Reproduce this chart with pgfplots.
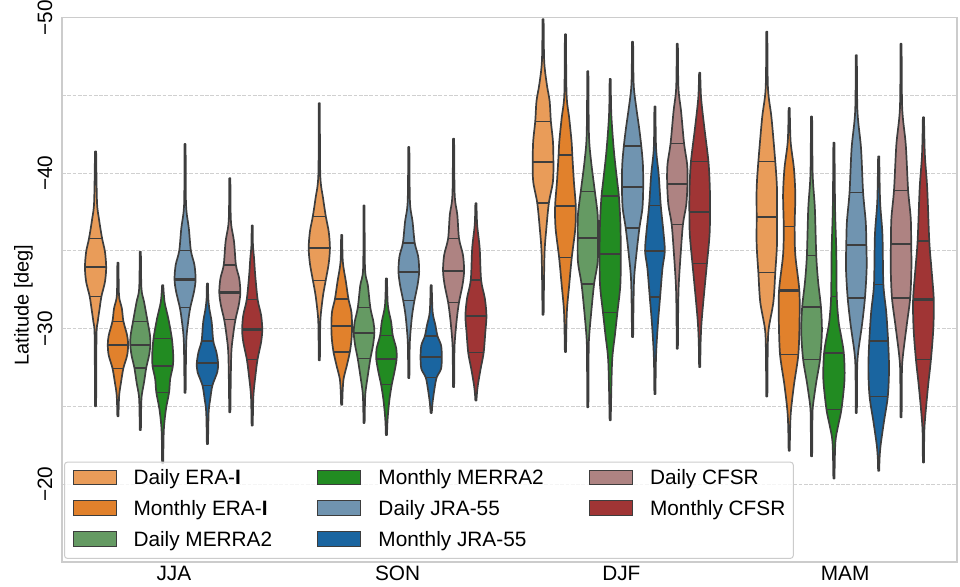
\documentclass[border=0pt]{standalone}
\usepackage{fontspec}
\setmainfont{Liberation Sans}
\usepackage{pgfplots}
\pgfplotsset{compat=1.18}
\usepackage{pgfplotstable}
\usepgfplotslibrary{fillbetween}

\definecolor{edge}{HTML}{3D3D3D}
\definecolor{cDE}{RGB}{233,156,89}
\definecolor{cME}{RGB}{225,129,44}
\definecolor{cDM}{RGB}{101,154,99}
\definecolor{cMM}{RGB}{34,139,34}
\definecolor{cDJ}{RGB}{112,148,176}
\definecolor{cMJ}{RGB}{26,101,160}
\definecolor{cDC}{RGB}{174,131,130}
\definecolor{cMC}{RGB}{160,53,53}
\definecolor{gridc}{HTML}{D0D0D0}
\definecolor{spine}{HTML}{CCCCCC}

% violin profiles: latitude y and half-width w (density, px-like units) per season
\pgfplotstableread{
yJ wJ yS wS yD wD yM wM
-41.40 0.6 -44.50 0.6 -49.90 0.6 -49.10 0.6
-38.17 1.5 -39.90 1.0 -47.21 1.2 -45.48 1.2
-37.10 3.5 -38.39 4 -45.70 4 -43.55 5
-35.79 7 -37.19 7 -44.63 7 -40.74 9
-34.95 10 -36.24 10 -43.34 8.3 -39.03 10.8
-33.94 11.3 -35.19 11.3 -42.05 10.5 -37.16 10.8
-33.01 10 -34.19 10 -40.71 11 -35.38 10.8
-32.09 6.3 -33.10 6.8 -39.46 10.5 -33.61 9
-31.29 4.3 -32.15 4 -38.09 6.2 -31.72 7
-30.43 2.3 -30.86 1.5 -36.45 3.5 -30.00 2
-29.57 1.0 -30.00 0.9 -34.74 1.5 -28.71 1
-25.01 0.6 -27.96 0.6 -30.90 0.6 -25.64 0.6
}\tDE
\pgfplotstableread{
yJ wJ yS wS yD wD yM wM
-34.24 0.6 -36.03 0.6 -48.93 0.6 -44.19 0.6
-32.58 0.9 -34.30 1.2 -45.06 1.2 -42.05 1.5
-31.94 1.5 -33.01 4.5 -43.55 4 -40.32 5
-31.29 4.2 -31.90 7.2 -42.05 6.5 -38.61 6.5
-30.48 5.8 -31.08 10.3 -41.16 7.3 -36.56 5.8
-29.57 9.8 -30.19 11 -39.46 9 -34.74 6.5
-28.97 10.8 -29.35 10.5 -37.87 11 -32.45 10.8
-28.28 9.8 -28.50 8.7 -36.45 10.5 -30.43 11
-27.46 5.8 -27.64 5.5 -34.56 6.7 -28.32 9.7
-26.56 3.3 -26.77 2 -32.80 4 -26.35 5
-25.70 1.3 -25.92 1.0 -31.08 1.5 -24.41 1.5
-24.37 0.6 -25.10 0.6 -28.50 0.6 -22.15 0.6
}\tME
\pgfplotstableread{
yJ wJ yS wS yD wD yM wM
-34.95 0.6 -37.92 0.6 -46.56 0.6 -43.64 0.6
-32.58 1.2 -33.87 1.0 -42.48 1.2 -39.90 1.2
-31.72 4 -32.80 4 -40.75 3.5 -37.74 3.5
-30.48 7.7 -31.34 6.7 -38.82 7.5 -34.69 5
-29.57 10.3 -30.43 10 -37.32 10.5 -33.01 7
-28.97 10.7 -29.74 11 -35.85 10.8 -31.38 10
-28.28 9.3 -28.93 9.5 -34.30 10.5 -29.79 11
-27.48 6.3 -28.06 6.7 -32.88 6.7 -28.03 9
-26.56 4 -26.99 4 -31.29 4 -26.56 5
-25.70 1.5 -25.92 1.5 -29.57 1.5 -25.06 1.5
-24.88 0.9 -25.06 0.9 -28.50 0.9 -24.19 0.9
-23.48 0.6 -23.94 0.6 -24.95 0.6 -21.79 0.6
}\tDM
\pgfplotstableread{
yJ wJ yS wS yD wD yM wM
-32.80 0.6 -33.23 0.6 -46.06 0.6 -41.96 0.6
-31.72 2 -31.51 1.5 -43.77 1.2 -37.74 1.2
-30.65 6 -30.43 5 -41.40 4 -34.95 2.5
-29.35 9.8 -29.57 6.7 -39.46 7.5 -32.05 3
-28.28 11.2 -28.71 10.5 -38.54 9.2 -30.43 5
-27.59 10.8 -28.03 10.8 -36.88 10.8 -29.57 7.5
-26.77 8 -27.21 8.5 -34.82 11.3 -28.43 10.5
-25.91 6.8 -26.41 5.7 -32.80 10.8 -26.77 11.3
-24.84 3.5 -25.48 3.3 -31.06 7.7 -24.82 8
-23.77 1.5 -24.41 1.5 -29.57 5 -23.77 4.5
-22.88 0.9 -23.77 0.9 -27.85 2 -22.69 1.5
-21.35 0.6 -23.16 0.6 -24.11 0.6 -20.37 0.6
}\tMM
\pgfplotstableread{
yJ wJ yS wS yD wD yM wM
-41.87 0.6 -41.68 0.6 -48.45 0.6 -47.59 0.6
-38.61 0.8 -38.17 1.2 -45.70 1.2 -43.98 1.2
-37.53 1.5 -36.88 4 -44.19 4 -41.61 5
-36.45 4 -35.51 6.3 -42.90 7 -38.77 7.2
-35.01 6.2 -34.63 10 -41.74 9.3 -36.88 10
-34.09 10 -33.66 11 -40.54 11 -35.38 10.7
-33.16 11.2 -32.80 9.3 -39.12 11.3 -33.87 11
-32.37 9.5 -31.81 6 -37.74 10.5 -31.98 9.2
-31.34 5.5 -30.86 3.5 -36.48 7.3 -30.22 6
-30.44 3.3 -29.57 1.5 -34.74 4 -28.50 2
-29.15 1.3 -28.71 0.9 -33.01 1.5 -27.42 0.9
-25.87 0.6 -26.82 0.6 -29.46 0.6 -24.58 0.6
}\tDJ
\pgfplotstableread{
yJ wJ yS wS yD wD yM wM
-32.90 0.6 -32.80 0.6 -44.28 0.6 -41.08 0.6
-31.94 0.9 -31.08 1.5 -41.61 1.2 -38.17 1.5
-31.29 2 -30.22 4.5 -39.90 4 -36.03 4
-30.43 4.5 -29.53 6.7 -37.92 6.2 -32.84 5
-29.21 6.2 -28.93 10.5 -36.24 9 -31.08 8
-28.50 9.5 -28.19 11.3 -34.99 10.5 -29.23 10
-27.79 11.3 -27.42 10.5 -33.87 8 -27.42 11
-27.21 10.5 -26.86 5.8 -32.03 5.5 -25.64 9.7
-26.35 5.3 -26.13 3.5 -30.43 3.3 -23.98 5.5
-25.48 3 -25.27 1.5 -28.71 1.5 -22.48 2
-24.63 1.3 -24.84 0.9 -27.53 0.9 -21.61 0.9
-22.58 0.6 -24.58 0.6 -25.79 0.6 -20.86 0.6
}\tMJ
\pgfplotstableread{
yJ wJ yS wS yD wD yM wM
-39.68 0.6 -42.22 0.6 -48.32 0.6 -48.32 0.6
-37.74 0.8 -38.61 1.2 -45.48 1.2 -44.19 1.2
-36.67 1.5 -37.32 4 -43.98 4 -41.83 5
-35.59 4.5 -35.79 5.8 -41.90 7.2 -38.90 7.5
-34.09 6.5 -34.74 10 -40.54 10.5 -37.10 10.3
-33.23 10 -33.72 11.2 -39.32 10.8 -35.46 10.8
-32.32 11.2 -32.80 9.5 -37.96 9.5 -33.87 11
-31.51 9.5 -31.70 5.8 -36.71 6 -31.98 9.7
-30.58 6 -30.65 3.5 -34.74 3.5 -30.22 6
-29.57 3.5 -29.35 1.5 -32.80 1.5 -28.28 2
-28.28 1.5 -28.50 0.9 -31.08 0.9 -27.21 0.9
-24.63 0.6 -26.24 0.6 -28.71 0.6 -24.30 0.6
}\tDC
\pgfplotstableread{
yJ wJ yS wS yD wD yM wM
-36.63 0.6 -38.06 0.6 -46.45 0.6 -43.59 0.6
-35.38 0.8 -36.67 1.3 -44.84 1.5 -41.19 1.5
-34.52 2 -35.16 4 -42.90 5 -39.03 4
-33.45 3.2 -33.12 5.5 -40.75 9.3 -35.64 6.2
-31.87 5.8 -31.94 9.5 -39.03 10.8 -33.87 8.5
-30.86 9.5 -30.82 11.2 -37.48 11 -31.87 11
-29.94 10.7 -29.79 10 -36.03 10.5 -30.00 10.5
-29.14 9.5 -28.45 8.2 -34.17 7.7 -28.03 8
-28.03 5.7 -27.42 5 -32.15 4.5 -26.35 5
-27.00 3.5 -26.35 2 -30.43 2 -24.41 2
-25.70 1.3 -25.70 0.9 -29.14 1.0 -23.34 0.9
-23.77 0.6 -25.38 0.6 -27.53 0.6 -21.40 0.6
}\tMC

% quartile lines (x, latitude, half-width)
\pgfplotstableread{
x y w
-0.35 -35.79 7
-0.35 -32.09 6.3
-0.25 -30.48 5.8
-0.25 -27.46 5.8
-0.15 -30.48 7.7
-0.15 -27.48 6.3
-0.05 -29.35 9.8
-0.05 -25.91 6.8
0.05 -35.01 6.2
0.05 -31.34 5.5
0.15 -29.21 6.2
0.15 -26.35 5.3
0.25 -34.09 6.5
0.25 -30.58 6
0.35 -31.87 5.8
0.35 -28.03 5.7
0.65 -37.19 7
0.65 -33.10 6.8
0.75 -31.90 7.2
0.75 -28.50 8.7
0.85 -31.34 6.7
0.85 -28.06 6.7
0.95 -29.57 6.7
0.95 -26.41 5.7
1.05 -35.51 6.3
1.05 -31.81 6
1.15 -29.53 6.7
1.15 -26.86 5.8
1.25 -35.79 5.8
1.25 -31.70 5.8
1.35 -33.12 5.5
1.35 -28.45 8.2
1.65 -43.34 8.3
1.65 -38.09 6.2
1.75 -41.16 7.3
1.75 -34.56 6.7
1.85 -38.82 7.5
1.85 -32.88 6.7
1.95 -38.54 9.2
1.95 -31.06 7.7
2.05 -41.74 9.3
2.05 -36.48 7.3
2.15 -37.92 6.2
2.15 -32.03 5.5
2.25 -41.90 7.2
2.25 -36.71 6
2.35 -40.75 9.3
2.35 -34.17 7.7
2.65 -40.74 9
2.65 -33.61 9
2.75 -36.56 5.8
2.75 -28.32 9.7
2.85 -34.69 5
2.85 -28.03 9
2.95 -32.05 3
2.95 -24.82 8
3.05 -38.77 7.2
3.05 -31.98 9.2
3.15 -32.84 5
3.15 -25.64 9.7
3.25 -38.90 7.5
3.25 -31.98 9.7
3.35 -35.64 6.2
3.35 -28.03 8
}\tQ
\pgfplotstableread{
x y w
-0.35 -33.94 11.3
-0.25 -28.97 10.8
-0.15 -28.97 10.7
-0.05 -27.59 10.8
0.05 -33.16 11.2
0.15 -27.79 11.3
0.25 -32.32 11.2
0.35 -29.94 10.7
0.65 -35.19 11.3
0.75 -30.19 11
0.85 -29.74 11
0.95 -28.03 10.8
1.05 -33.66 11
1.15 -28.19 11.3
1.25 -33.72 11.2
1.35 -30.82 11.2
1.65 -40.71 11
1.75 -37.87 11
1.85 -35.85 10.8
1.95 -34.82 11.3
2.05 -39.12 11.3
2.15 -34.99 10.5
2.25 -39.32 10.8
2.35 -37.48 11
2.65 -37.16 10.8
2.75 -32.45 10.8
2.85 -31.38 10
2.95 -28.43 10.5
3.05 -35.38 10.7
3.15 -29.23 10
3.25 -35.46 10.8
3.35 -31.87 11
}\tMed

% #1 table, #2 season letter, #3 position, #4 colour, #5 id
\newcommand{\violin}[5]{%
  \addplot[draw=none, smooth, tension=0.5, name path=R#5, forget plot]
    table[x expr=#3+0.0042*\thisrow{w#2}, y=y#2] {#1};
  \addplot[draw=none, smooth, tension=0.5, name path=L#5, forget plot]
    table[x expr=#3-0.0042*\thisrow{w#2}, y=y#2] {#1};
  \addplot[fill=#4, draw=edge, line width=1.7bp, line join=round, forget plot]
    fill between[of=R#5 and L#5, reverse=true];
}

\begin{document}
\begin{tikzpicture}
\begin{axis}[
  scale only axis, width=895bp, height=544.3bp,
  xmin=-0.5, xmax=3.5, ymin=-50, ymax=-15, y dir=reverse,
  xtick={0,1,2,3}, xticklabels={JJA,SON,DJF,MAM},
  ytick={-50,-40,-30,-20}, yticklabels={−50,−40,−30,−20},
  minor ytick={-45,-35,-25},
  ymajorgrids, yminorgrids,
  major grid style={draw=gridc, line width=0.9bp, dash pattern=on 3.7bp off 1.6bp},
  minor grid style={draw=gridc, line width=0.9bp, dash pattern=on 3.7bp off 1.6bp},
  major tick length=0pt, minor tick length=0pt,
  axis line style={draw=spine, line width=1.3bp},
  tick label style={font=\fontsize{20.8bp}{24bp}\selectfont},
  yticklabel style={rotate=90, anchor=base, inner sep=0pt},
  yticklabel shift=10bp,
  xticklabel style={anchor=north, inner sep=0pt},
  xticklabel shift=4bp,
  ylabel={Latitude [deg]},
  every axis y label/.style={at={(axis description cs:-0.043,0.472)}, rotate=90, anchor=center, font=\fontsize{20bp}{24bp}\selectfont},
  legend columns=3,
  legend cell align=left,
  legend image code/.code={\draw[#1, sharp corners, fill opacity=1, line width=1bp] (0bp,-4.9bp) rectangle (43bp,9.4bp);},
  legend style={at={(axis description cs:0,0)}, anchor=south west, xshift=2bp, yshift=3bp,
    draw=spine, line width=1bp, rounded corners=3bp, fill=white, fill opacity=0.8, text opacity=1,
    inner xsep=8bp, inner ysep=7.5bp, font=\fontsize{20.8bp}{24bp}\selectfont, row sep=11.2bp,
    nodes={inner sep=0pt, text height=15bp, text depth=4.5bp},
    /tikz/every odd column/.append style={column sep=17bp},
    /tikz/every even column/.append style={column sep=45.3bp}},
]
\addlegendimage{fill=cDE, draw=edge}\addlegendentry{Daily ERA-\textbf{I}}
\addlegendimage{fill=cMM, draw=edge}\addlegendentry{Monthly MERRA2}
\addlegendimage{fill=cDC, draw=edge}\addlegendentry{Daily CFSR}
\addlegendimage{fill=cME, draw=edge}\addlegendentry{Monthly ERA-\textbf{I}}
\addlegendimage{fill=cDJ, draw=edge}\addlegendentry{Daily JRA-55}
\addlegendimage{fill=cMC, draw=edge}\addlegendentry{Monthly CFSR}
\addlegendimage{fill=cDM, draw=edge}\addlegendentry{Daily MERRA2}
\addlegendimage{fill=cMJ, draw=edge}\addlegendentry{Monthly JRA-55}

\violin{\tDE}{J}{-0.35}{cDE}{a1}
\violin{\tME}{J}{-0.25}{cME}{a2}
\violin{\tDM}{J}{-0.15}{cDM}{a3}
\violin{\tMM}{J}{-0.05}{cMM}{a4}
\violin{\tDJ}{J}{0.05}{cDJ}{a5}
\violin{\tMJ}{J}{0.15}{cMJ}{a6}
\violin{\tDC}{J}{0.25}{cDC}{a7}
\violin{\tMC}{J}{0.35}{cMC}{a8}

\violin{\tDE}{S}{0.65}{cDE}{b1}
\violin{\tME}{S}{0.75}{cME}{b2}
\violin{\tDM}{S}{0.85}{cDM}{b3}
\violin{\tMM}{S}{0.95}{cMM}{b4}
\violin{\tDJ}{S}{1.05}{cDJ}{b5}
\violin{\tMJ}{S}{1.15}{cMJ}{b6}
\violin{\tDC}{S}{1.25}{cDC}{b7}
\violin{\tMC}{S}{1.35}{cMC}{b8}

\violin{\tDE}{D}{1.65}{cDE}{c1}
\violin{\tME}{D}{1.75}{cME}{c2}
\violin{\tDM}{D}{1.85}{cDM}{c3}
\violin{\tMM}{D}{1.95}{cMM}{c4}
\violin{\tDJ}{D}{2.05}{cDJ}{c5}
\violin{\tMJ}{D}{2.15}{cMJ}{c6}
\violin{\tDC}{D}{2.25}{cDC}{c7}
\violin{\tMC}{D}{2.35}{cMC}{c8}

\violin{\tDE}{M}{2.65}{cDE}{d1}
\violin{\tME}{M}{2.75}{cME}{d2}
\violin{\tDM}{M}{2.85}{cDM}{d3}
\violin{\tMM}{M}{2.95}{cMM}{d4}
\violin{\tDJ}{M}{3.05}{cDJ}{d5}
\violin{\tMJ}{M}{3.15}{cMJ}{d6}
\violin{\tDC}{M}{3.25}{cDC}{d7}
\violin{\tMC}{M}{3.35}{cMC}{d8}

\addplot[forget plot, draw=edge, line width=1.3bp, mark=none,
  quiver={u=0.0084*\thisrow{w}, v=0}]
  table[x expr=\thisrow{x}-0.0042*\thisrow{w}, y=y] {\tQ};
\addplot[forget plot, draw=edge, line width=2.2bp, mark=none,
  quiver={u=0.0084*\thisrow{w}, v=0}]
  table[x expr=\thisrow{x}-0.0042*\thisrow{w}, y=y] {\tMed};
\end{axis}
\path ([shift={(-62bp,-25bp)}]current axis.south west) rectangle ([shift={(3bp,16.7bp)}]current axis.north east);
\end{tikzpicture}
\end{document}
